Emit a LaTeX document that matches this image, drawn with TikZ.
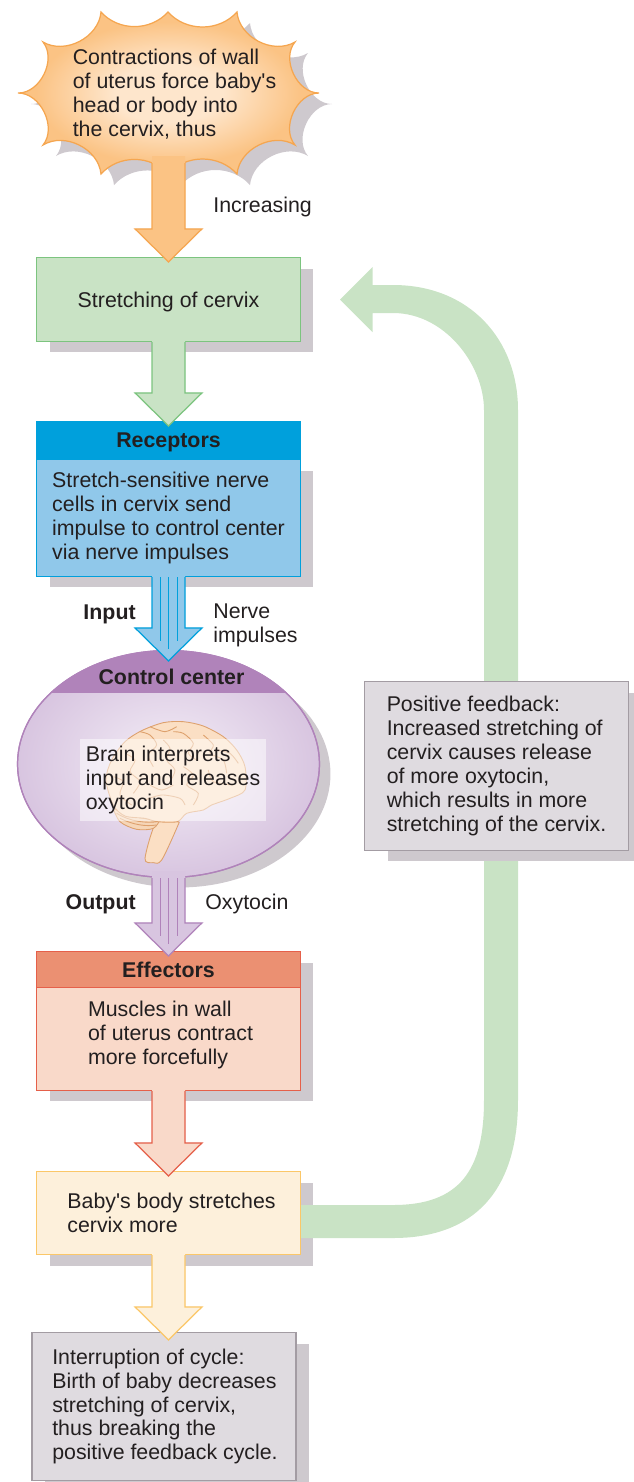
\documentclass[tikz,border=0pt]{standalone}
\usepackage{fontspec}
\setmainfont{Liberation Sans}
\usepackage{xcolor}
\usepackage{tikz}
\usetikzlibrary{positioning,calc,shapes.geometric,shadows,backgrounds}
\definecolor{inkgray}{HTML}{231F20}
\definecolor{shadowgray}{HTML}{CEC9CE}
\definecolor{notegray}{HTML}{DFDBE0}
\definecolor{noteline}{HTML}{A39CA3}
\definecolor{burstfill}{HTML}{FBC384}
\definecolor{burstlight}{HTML}{FEE6CC}
\definecolor{burstline}{HTML}{F5A650}
\definecolor{stretchfill}{HTML}{C9E3C5}
\definecolor{stretchline}{HTML}{7CC47F}
\definecolor{receptfill}{HTML}{90C8EA}
\definecolor{recepthead}{HTML}{00A0DC}
\definecolor{controlfill}{HTML}{D8C5E0}
\definecolor{controllight}{HTML}{F4EEF7}
\definecolor{controlhead}{HTML}{B083BA}
\definecolor{effectfill}{HTML}{F9D9C9}
\definecolor{effecthead}{HTML}{EB9072}
\definecolor{effectline}{HTML}{E5604A}
\definecolor{babyfill}{HTML}{FDF0DB}
\definecolor{babyline}{HTML}{FBC768}
\definecolor{brainfill}{HTML}{FBDFC4}
\definecolor{brainline}{HTML}{DDA06C}
\pgfdeclareradialshading{burstglow}{\pgfpoint{0bp}{0bp}}{color(0bp)=(burstlight); color(9bp)=(burstlight); color(22bp)=(burstfill); color(50bp)=(burstfill)}
% block arrow from one shape down to the next, with its shadow behind everything
\newcommand{\flowarrow}[3]{%
  \path (#1) coordinate (atop) ($(#1 |- #2)+(0,5)$) coordinate (atip);
  \begin{scope}[on background layer]
    \fill[shadowgray,shift={(12.5,11)}] ($(atop)+(-16.5,0)$) -- ($(atip)+(-16.5,-33)$) -- ($(atip)+(-33.5,-33)$) -- (atip) -- ($(atip)+(33.5,-33)$) -- ($(atip)+(16.5,-33)$) -- ($(atop)+(16.5,0)$) -- cycle;
  \end{scope}
  \fill[#3,draw=none] ($(atop)+(-16.5,-7)$) -- ($(atip)+(-16.5,-33)$) -- ($(atip)+(-33.5,-33)$) -- (atip) -- ($(atip)+(33.5,-33)$) -- ($(atip)+(16.5,-33)$) -- ($(atop)+(16.5,-7)$) -- cycle;
  \draw[#3,fill=none,line join=miter] ($(atop)+(-16.5,0)$) -- ($(atip)+(-16.5,-33)$) -- ($(atip)+(-33.5,-33)$) -- (atip) -- ($(atip)+(33.5,-33)$) -- ($(atip)+(16.5,-33)$) -- ($(atop)+(16.5,0)$);
}
% the three thin nerve lines inside a block arrow
\newcommand{\nervelines}[1]{%
  \draw[#1] ($(atop)+(-8.5,0)$) -- ($(atip)+(-8.5,-20)$);
  \draw[#1] (atop) -- ($(atip)+(0,-12)$);
  \draw[#1] ($(atop)+(8.5,0)$) -- ($(atip)+(8.5,-20)$);
}
\newcommand{\burstoutline}{(168,12) to[scallop] (237,12) to[cornerscallop] (295,42) to[sidescallop] (319,93) to[sidescallop] (295,145) to[cornerscallop] (237,174) to[scallop] (168,174) to[scallop] (101,174) to[cornerscallop] (43,145) to[sidescallop] (18,93) to[sidescallop] (43,42) to[cornerscallop] (101,12) to[scallop] (168,12) -- cycle}

\begin{document}
\begin{tikzpicture}[
  x=0.02cm,y=-0.02cm,
  every node/.style={text=inkgray,font=\fontsize{12.15}{13.6}\selectfont},
  scallop/.style={bend right=48},
  cornerscallop/.style={bend right=58},
  sidescallop/.style={bend right=65},
  hasshadow/.style={general shadow={shadow xshift=#1,shadow yshift=-0.22cm,fill=shadowgray}},
  hasshadow/.default=0.26cm,
  plainbox/.style={draw,align=left,minimum width=5.28cm,line width=0.7pt,inner sep=0pt},
  flowbox/.style={plainbox,hasshadow},
  headbox/.style={draw,minimum width=5.28cm,line width=0.7pt,inner sep=0pt,text depth=0pt,font=\fontsize{12.15}{13.6}\selectfont\bfseries},
  steptext/.style={align=left,inner sep=0pt},
  sidelabel/.style={align=left,anchor=west,inner sep=0pt},
  boldlabel/.style={anchor=east,inner sep=0pt,text depth=0pt,font=\fontsize{12.15}{13.6}\selectfont\bfseries},
  orangearrow/.style={fill=burstfill,draw=burstline,line width=0.7pt},
  greenarrow/.style={fill=stretchfill,draw=stretchline,line width=0.7pt},
  bluearrow/.style={fill=receptfill,draw=recepthead,line width=0.7pt},
  purplearrow/.style={fill=controlfill,draw=controlhead,line width=0.7pt},
  salmonarrow/.style={fill=effectfill,draw=effectline,line width=0.7pt},
  creamarrow/.style={fill=babyfill,draw=babyline,line width=0.7pt},
  gyrus/.style={brainline,line width=0.5pt,fill=none}
]
\useasboundingbox (0,0) rectangle (633,1482);

% starburst
\fill[shadowgray,shift={(13,11)}] \burstoutline;
\shade[shading=burstglow,draw=burstline,line width=0.7pt] \burstoutline;
\coordinate (burstbase) at (168.5,163);
\node[steptext] (burst) at (174.5,94) {Contractions of wall\\of uterus force baby\textquotesingle s\\head or body into\\the cervix, thus};

% boxes of the loop
\node[flowbox,fill=stretchfill,draw=stretchline,minimum height=1.68cm,text depth=0pt] (stretch) at (168.5,299.5) {Stretching of cervix};
\node[flowbox,fill=receptfill,draw=recepthead,minimum height=2.34cm] (receptors) at (168.5,518) {Stretch-sensitive nerve\\cells in cervix send\\impulse to control center\\via nerve impulses};
\node[headbox,fill=recepthead,draw=recepthead,minimum height=0.74cm] (receptorshead) at (168.5,440) {Receptors};

\node[ellipse,draw=controlhead,line width=0.7pt,inner sep=0pt,minimum width=6.04cm,minimum height=4.54cm,
  inner color=controllight,outer color=controlfill,general shadow={shadow xshift=0.22cm,shadow yshift=-0.2cm,fill=shadowgray}] (control) at (168.5,764) {};
\begin{scope}
  \clip (control.center) ellipse [x radius=151,y radius=113.5];
  \fill[controlhead] (0,640) rectangle (340,693);
\end{scope}
\draw[draw=controlhead,line width=0.7pt] (control.center) ellipse [x radius=151,y radius=113.5];
\node[inner sep=0pt,text depth=0pt,font=\fontsize{12.15}{13.6}\selectfont\bfseries] (controlhead) at (171.5,677) {Control center};
\coordinate (controltop) at ($(control.north)+(0,6)$);

% brain, in its own local grid
\begin{scope}[shift={(70,710)},x=0.00667cm,y=-0.00667cm]
  \filldraw[fill=brainfill,draw=brainline,line width=0.5pt] plot[smooth cycle] coordinates {(262,330)(225,445)(250,458)(275,450)(322,350)(322,335)};
  \filldraw[fill=brainfill!85!brainline,draw=brainline,line width=0.5pt] plot[smooth cycle] coordinates {(130,290)(150,335)(200,358)(250,355)(268,325)(220,315)(165,300)};
  \draw[gyrus] (140,310) .. controls (180,335) and (230,340) .. (262,335);
  \draw[gyrus] (150,325) .. controls (190,345) and (230,350) .. (258,345);
  \draw[gyrus] (135,298) .. controls (180,320) and (230,330) .. (266,328);
  \filldraw[fill=brainfill,draw=brainline,line width=0.5pt] plot[smooth cycle] coordinates {(322,335)(350,310)(400,300)(425,285)(480,265)(525,240)(525,170)(500,120)(460,80)(400,48)(340,35)(280,38)(215,62)(165,95)(125,150)(108,210)(130,285)(165,318)(225,325)(262,335)};
  \draw[gyrus] plot[smooth] coordinates {(210,65)(240,75)(260,105)(235,135)(250,170)};
  \draw[gyrus] plot[smooth] coordinates {(310,65)(340,70)(370,100)(355,130)(380,150)};
  \draw[gyrus] plot[smooth] coordinates {(280,90)(300,115)(290,150)(315,180)(300,215)};
  \draw[gyrus] plot[smooth] coordinates {(400,75)(430,105)(420,130)(460,150)(470,190)};
  \draw[gyrus] plot[smooth] coordinates {(165,130)(195,150)(180,185)(210,215)(190,250)};
  \draw[gyrus] plot[smooth] coordinates {(130,200)(160,215)(150,255)(185,285)};
  \draw[gyrus] plot[smooth] coordinates {(340,170)(370,195)(350,225)(385,250)(370,285)};
  \draw[gyrus] plot[smooth] coordinates {(225,270)(275,255)(330,265)(345,285)};
  \draw[gyrus] plot[smooth] coordinates {(415,180)(430,215)(490,225)};
  \draw[gyrus] plot[smooth] coordinates {(240,225)(275,240)(310,225)};
  \draw[gyrus] plot[smooth] coordinates {(240,50)(285,65)(320,50)};
  \draw[gyrus] plot[smooth] coordinates {(440,120)(480,130)(505,160)};
\end{scope}
\node[fill=white,fill opacity=0.5,text opacity=1,align=left,inner sep=0pt,minimum width=3.72cm,minimum height=1.64cm] (braintext) at (173,780) {Brain interprets\\input and releases\\oxytocin};

\node[flowbox,fill=effectfill,draw=effectline,minimum height=2.78cm] (effectors) at (168.5,1021) {};
\node[headbox,fill=effecthead,draw=effectline,minimum height=0.72cm] (effectorshead) at (168.5,969.5) {Effectors};
\node[steptext] (effectorstext) at (170.5,1035) {Muscles in wall\\of uterus contract\\more forcefully};
\node[flowbox,fill=babyfill,draw=babyline,minimum height=1.66cm] (baby) at (168.5,1213) {};
\node[steptext] (babytext) at (171.5,1212.5) {Baby\textquotesingle s body stretches\\cervix more};
\node[flowbox,fill=notegray,draw=noteline,minimum height=2.96cm] (interrupt) at (164,1406.5) {};
\node[steptext] (interrupttext) at (165,1406.5) {Interruption of cycle:\\Birth of baby decreases\\stretching of cervix,\\thus breaking the\\positive feedback cycle.};
\coordinate (interrupttop) at ($(interrupt.north)+(0,3)$);

% feedback loop, wider towards the baby box than at the head
\coordinate (feedbacktip) at (340,299.5);
\fill[stretchfill] ($(baby.east)+(0,-8)$) -- (393,1205) .. controls (460,1205) and (484,1170) .. (484,1100) -- (484,410) .. controls (484,365) and (445,313) .. (393,313) -- (372.5,313) -- (372.5,332) -- (feedbacktip) -- (372.5,267) -- (372.5,285) -- (393,285) .. controls (470,285) and (518,340) .. (518,410) -- (518,1100) .. controls (518,1190) and (475,1238) .. (393,1238) -- ($(baby.east)+(0,25)$) -- cycle;
\node[plainbox,hasshadow=0.46cm,fill=notegray,draw=noteline,minimum height=3.38cm] (feedback) at (496.5,766) {Positive feedback:\\Increased stretching of\\cervix causes release\\of more oxytocin,\\which results in more\\stretching of the cervix.};

% arrows between the steps
\flowarrow{burstbase}{stretch.north}{orangearrow}
\flowarrow{stretch.south}{receptorshead.north}{greenarrow}
\flowarrow{receptors.south}{controltop}{bluearrow}
\nervelines{draw=recepthead}
\flowarrow{control.south}{effectorshead.north}{purplearrow}
\nervelines{draw=controlhead}
\flowarrow{effectors.south}{baby.north}{salmonarrow}
\flowarrow{baby.south}{interrupttop}{creamarrow}

\node[sidelabel,text depth=0pt] (increasing) at (213,205) {Increasing};
\node[boldlabel] (input) at (136,612) {Input};
\node[sidelabel] (impulses) at (213,625.5) {Nerve\\impulses};
\node[boldlabel] (output) at (136,902) {Output};
\node[sidelabel,text depth=0pt] (oxytocin) at (205,902) {Oxytocin};
\end{tikzpicture}
\end{document}
